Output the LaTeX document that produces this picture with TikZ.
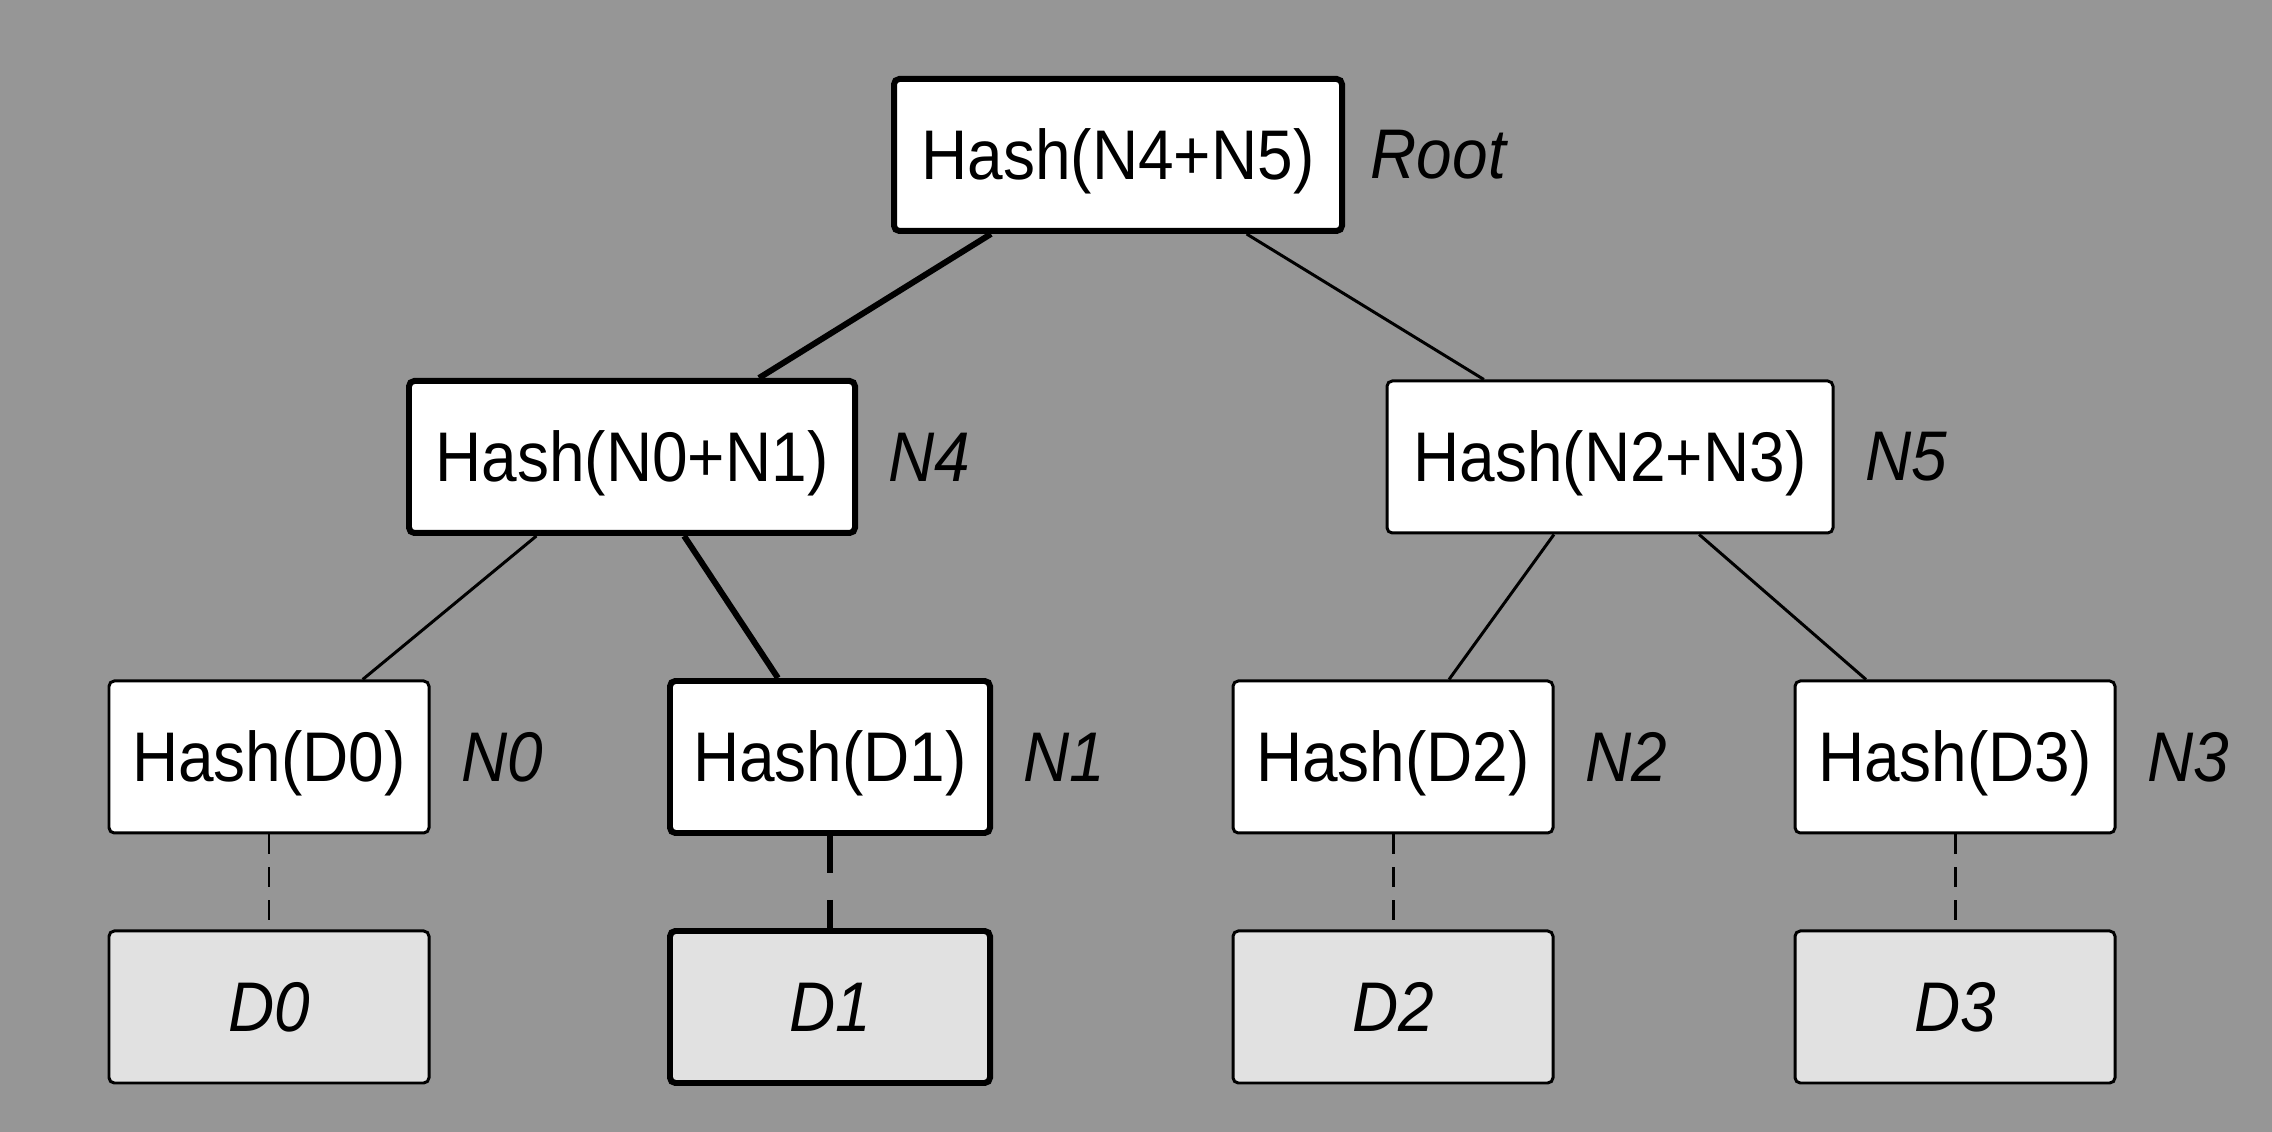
\documentclass[tikz,border=0pt]{standalone}
\usepackage{fontspec}
\setmainfont{Liberation Sans}[FakeStretch=0.91]
\usetikzlibrary{positioning}
\definecolor{backgr}{HTML}{969696}
\definecolor{datafill}{HTML}{E1E1E1}
\newcommand{\treefont}{\fontsize{20}{24}\selectfont}
\tikzset{
  hashbox/.style={draw, fill=white, rounded corners=1.5pt, line width=0.85pt,
    inner sep=0pt, minimum height=1.52cm, text height=0.55cm, text depth=0.05cm,
    font=\treefont},
  databox/.style={hashbox, fill=datafill, minimum width=3.2cm, font=\treefont\itshape},
  onpath/.style={line width=1.7pt},
  nametag/.style={inner sep=0pt, font=\treefont\itshape},
  link/.style={line width=0.85pt},
  datalink/.style={line width=0.85pt, dash pattern=on 2mm off 1.3mm},
  pathlink/.style={line width=1.7pt, dash pattern=on 3.7mm off 2.7mm},
}

\begin{document}
\begin{tikzpicture}
  % Background
  \fill[backgr] (0, 0) rectangle (22.72, 11.32);
  \useasboundingbox (0, 0) rectangle (22.72, 11.32);

  % Hash nodes
  \node[hashbox, onpath, minimum width=4.48cm] (root) at (11.18, 9.77) {Hash(N4+N5)};
  \node[hashbox, onpath, minimum width=4.46cm] (n4) at (6.32, 6.75) {Hash(N0+N1)};
  \node[hashbox, minimum width=4.46cm] (n5) at (16.10, 6.75) {Hash(N2+N3)};
  \node[hashbox, minimum width=3.2cm] (n0) at (2.69, 3.75) {Hash(D0)};
  \node[hashbox, onpath, minimum width=3.2cm] (n1) at (8.30, 3.75) {Hash(D1)};
  \node[hashbox, minimum width=3.2cm] (n2) at (13.93, 3.75) {Hash(D2)};
  \node[hashbox, minimum width=3.2cm] (n3) at (19.55, 3.75) {Hash(D3)};

  % Data blocks
  \node[databox] (d0) at (2.69, 1.25) {D0};
  \node[databox, onpath] (d1) at (8.30, 1.25) {D1};
  \node[databox] (d2) at (13.93, 1.25) {D2};
  \node[databox] (d3) at (19.55, 1.25) {D3};

  % Names
  \node[nametag, right=0.25cm of root] (rootname) {Root};
  \node[nametag, right=0.3cm of n4] (n4name) {N4};
  \node[nametag, right=0.3cm of n5] (n5name) {N5};
  \node[nametag, right=0.3cm of n0] (n0name) {N0};
  \node[nametag, right=0.3cm of n1] (n1name) {N1};
  \node[nametag, right=0.3cm of n2] (n2name) {N2};
  \node[nametag, right=0.3cm of n3] (n3name) {N3};

  % Tree edges
  \draw[link, onpath] (root) -- (n4);
  \draw[link] (root) -- (n5);
  \draw[link] (n4) -- (n0);
  \draw[link, onpath] (n4) -- (n1);
  \draw[link] (n5) -- (n2);
  \draw[link] (n5) -- (n3);

  % Hash to data
  \draw[datalink] (n0.south) -- (d0.north);
  \draw[pathlink] (n1.south) -- (d1.north);
  \draw[datalink] (n2.south) -- (d2.north);
  \draw[datalink] (n3.south) -- (d3.north);
\end{tikzpicture}
\end{document}
